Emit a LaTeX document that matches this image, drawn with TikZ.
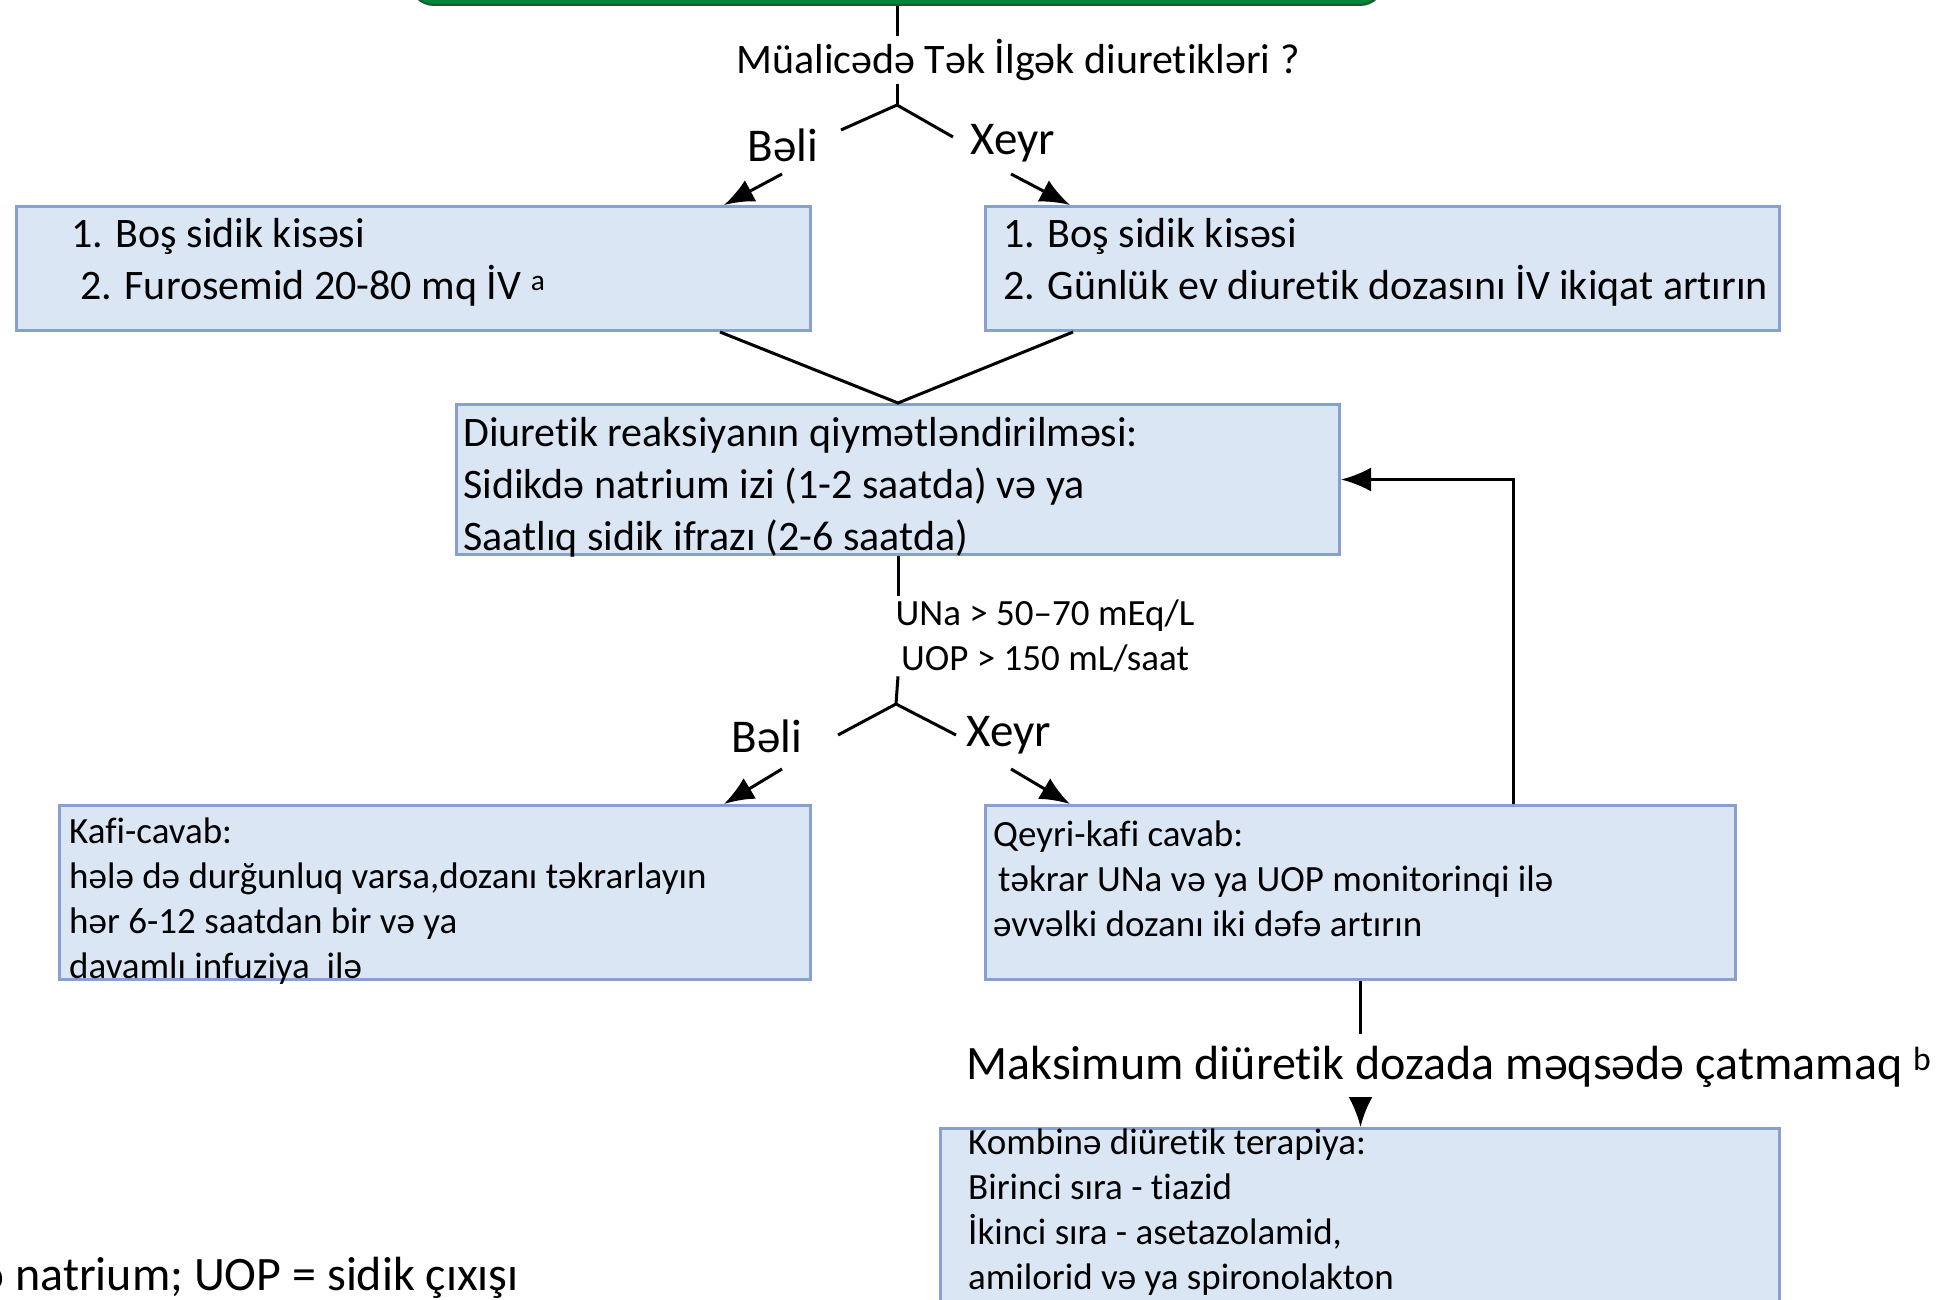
\documentclass[tikz,border=0pt]{standalone}
\usepackage{fontspec}
\setmainfont{Carlito}[Ligatures={NoCommon}]
\usetikzlibrary{arrows.meta, positioning, calc}
\definecolor{boxfill}{RGB}{219,230,245}
\definecolor{boxline}{RGB}{135,160,205}
\definecolor{grnfill}{RGB}{0,133,58}
\definecolor{grnline}{RGB}{20,95,45}
\tikzset{
  bx/.style  ={rectangle, draw=boxline, fill=boxfill, line width=3pt, anchor=north west, inner sep=0pt},
  txt/.style ={align=left, inner sep=0pt},
  big/.style ={font=\fontsize{42}{52}\selectfont},
  sml/.style ={font=\fontsize{37}{45}\selectfont},
  ans/.style ={font=\fontsize{47}{56}\selectfont, inner sep=2pt},
  gbx/.style ={rectangle, rounded corners=24pt, draw=grnline, fill=grnfill, line width=2pt},
  ln/.style  ={line width=3pt},
  fl/.style  ={line width=3pt, -{Latex[length=30pt,width=24pt]}},
}
\begin{document}
\begin{tikzpicture}[x=1pt, y=-1pt]
  \useasboundingbox (0,0) rectangle (1946,1300);
  \clip (0,0) rectangle (1946,1300);
  % boxes
  \node[gbx, minimum width=974, minimum height=70] (grn) at (897,-30) {};
  \node[bx, minimum width=794, minimum height=124] (L1) at (15,205) {};
  \node[bx, minimum width=794, minimum height=124] (R1) at (984,205) {};
  \node[bx, minimum width=883, minimum height=150] (mid) at (455,403) {};
  \node[bx, minimum width=751, minimum height=174] (L2) at (58,804) {};
  \node[bx, minimum width=750, minimum height=174] (R2) at (984,804) {};
  \node[bx, minimum width=839, minimum height=220] (bot) at (939,1127) {};
  % box texts
  \node[txt, big, right=56pt of L1.west, yshift=6pt] (L1t)
    {1. Boş sidik kisəsi\\\hspace*{9pt}2. Furosemid 20-80 mq İV \textsuperscript{a}};
  \node[txt, big, right=19pt of R1.west, yshift=6pt] (R1t)
    {1. Boş sidik kisəsi\\2. Günlük ev diuretik dozasını İV ikiqat artırın};
  \node[txt, big, right=8pt of mid.west, yshift=-8pt] (midt)
    {Diuretik reaksiyanın qiymətləndirilməsi:\\Sidikdə natrium izi (1-2 saatda) və ya\\Saatlıq sidik ifrazı (2-6 saatda)};
  \node[txt, sml, right=11pt of L2.west, yshift=-9pt] (L2t)
    {Kafi-cavab:\\hələ də durğunluq varsa,dozanı təkrarlayın\\hər 6-12 saatdan bir və ya\\davamlı infuziya\ \ ilə};
  \node[txt, sml, right=9pt of R2.west, yshift=14pt] (R2t)
    {Qeyri-kafi cavab:\\\hspace*{5pt}təkrar UNa və ya UOP monitorinqi ilə\\əvvəlki dozanı iki dəfə artırın};
  \node[txt, sml, below right=2pt and 29pt of bot.north west] (bott)
    {Kombinə diüretik terapiya:\\Birinci sıra - tiazid\\İkinci sıra - asetazolamid,\\amilorid və ya spironolakton};
  % labels
  \node[big, inner sep=3pt] (q1) at (1018,60) {Müalicədə Tək İlgək diuretikləri ?};
  \node[ans] (b1) at (783,145) {Bəli};
  \node[ans] (x1) at (1013,143) {Xeyr};
  \node[sml, align=center, inner sep=4pt] (crit) at (1045,636) {UNa > 50–70 mEq/L\\UOP > 150 mL/saat};
  \node[ans] (b2) at (767,736) {Bəli};
  \node[ans] (x2) at (1009,735) {Xeyr};
  \node[font=\fontsize{48}{56}\selectfont, inner ysep=12pt] (maks) at (1449,1067) {Maksimum diüretik dozada məqsədə çatmamaq \textsuperscript{b}};
  \node[font=\fontsize{48}{56}\selectfont, anchor=east, inner sep=0pt] (foot) at (519,1278) {ə natrium; UOP = sidik çıxışı};
  % fork points
  \coordinate (s1) at (897,105);
  \coordinate (s1l) at (841,130);
  \coordinate (s1r) at (953,137);
  \coordinate (a1) at (782,174);
  \coordinate (a2) at (1011,174);
  \coordinate (s2) at (896,704);
  \coordinate (s2l) at (838,735);
  \coordinate (s2r) at (956,735);
  \coordinate (a3) at (782,769);
  \coordinate (a4) at (1011,769);
  % connectors
  \draw[ln] (grn.south) -- (grn.south |- q1.north);
  \draw[ln] (grn.south |- q1.south) -- (s1);
  \draw[ln] (s1l) -- (s1) -- (s1r);
  \draw[fl] (a1) -- (724,0 |- L1.north);
  \draw[fl] (a2) -- (1070,0 |- R1.north);
  \draw[ln] (720,0 |- L1.south) -- (mid.north) -- (1073,0 |- R1.south);
  \draw[ln] (mid.south) -- (mid.south |- crit.north);
  \draw[ln] (mid.south |- crit.south) -- (s2);
  \draw[ln] (s2l) -- (s2) -- (s2r);
  \draw[fl] (a3) -- (724,0 |- L2.north);
  \draw[fl] (a4) -- (1070,0 |- R2.north);
  \draw[fl] (1513,0 |- R2.north) |- (mid.east);
  \draw[ln] (R2.south) -- (R2.south |- maks.north);
  \draw[fl] (R2.south |- maks.south) -- (R2.south |- bot.north);
\end{tikzpicture}
\end{document}
